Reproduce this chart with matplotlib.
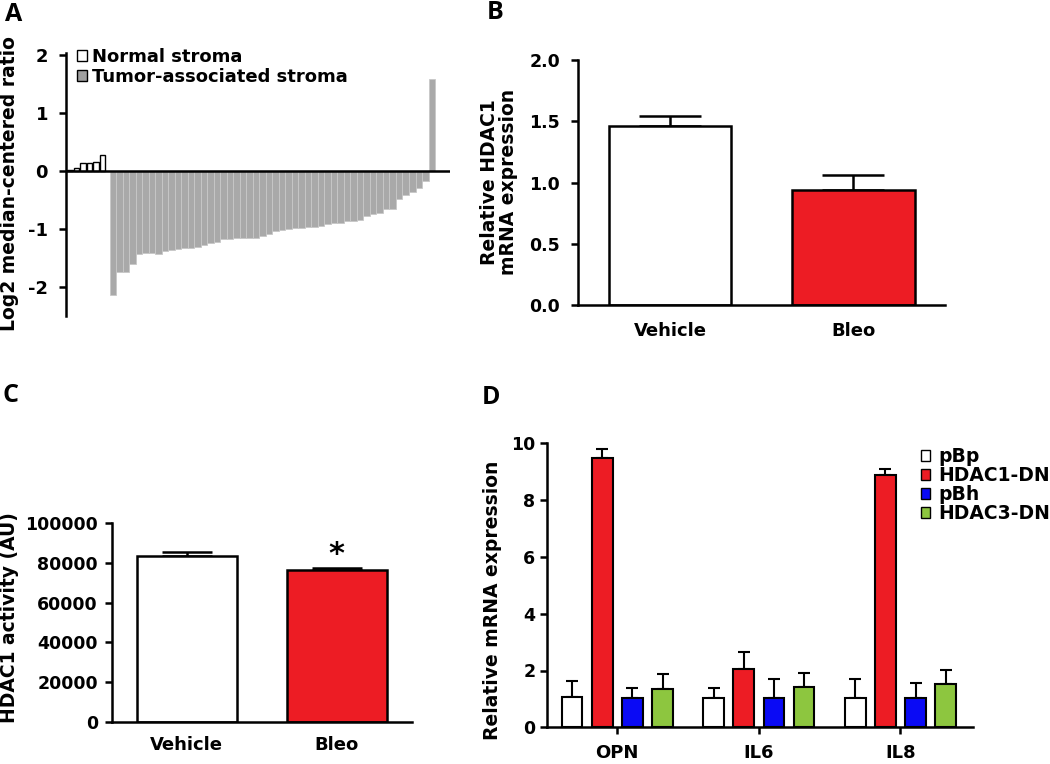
import matplotlib
matplotlib.use('Agg')
import matplotlib.pyplot as plt
from matplotlib.patches import Patch
import numpy as np

plt.rcParams['font.family'] = 'DejaVu Sans'
plt.rcParams['font.weight'] = 'bold'
plt.rcParams['axes.unicode_minus'] = False

# Panel A: log2 median-centered ratio
normal_stroma = [0.02, 0.05, 0.14, 0.14, 0.15, 0.28]
tumor_stroma = [-2.13, -1.74, -1.74, -1.61, -1.43, -1.42, -1.41, -1.43, -1.38, -1.37,
                -1.34, -1.33, -1.33, -1.32, -1.27, -1.25, -1.22, -1.18, -1.17, -1.16,
                -1.16, -1.15, -1.15, -1.12, -1.09, -1.04, -1.02, -1.00, -0.99, -0.98,
                -0.97, -0.96, -0.95, -0.92, -0.90, -0.89, -0.87, -0.86, -0.84, -0.77,
                -0.74, -0.72, -0.66, -0.65, -0.49, -0.42, -0.36, -0.30, -0.18, 1.59]

# Panel B: relative HDAC1 mRNA expression
groups_bc = ['Vehicle', 'Bleo']
hdac1_mrna = [1.46, 0.935]
hdac1_mrna_err = [0.08, 0.13]

# Panel C: HDAC1 activity
hdac1_activity = [83300, 76500]
hdac1_activity_err = [2000, 800]

# Panel D: relative mRNA expression
genes = ['OPN', 'IL6', 'IL8']
constructs = ['pBp', 'HDAC1-DN', 'pBh', 'HDAC3-DN']
expr = {
    'pBp': [1.08, 1.02, 1.04],
    'HDAC1-DN': [9.47, 2.06, 8.88],
    'pBh': [1.02, 1.02, 1.02],
    'HDAC3-DN': [1.34, 1.43, 1.52],
}
expr_err = {
    'pBp': [0.56, 0.35, 0.66],
    'HDAC1-DN': [0.33, 0.58, 0.20],
    'pBh': [0.35, 0.68, 0.55],
    'HDAC3-DN': [0.53, 0.49, 0.50],
}

RED = '#ED1C24'
colors_d = {'pBp': 'white', 'HDAC1-DN': RED, 'pBh': '#0A0AF5', 'HDAC3-DN': '#8DC63F'}

W, H = 1050, 764


def box(l, t, r, b):
    return [l / W, 1 - b / H, (r - l) / W, (b - t) / H]


def style_axes(ax):
    for s in ['top', 'right']:
        ax.spines[s].set_visible(False)
    for s in ['left', 'bottom']:
        ax.spines[s].set_linewidth(1.8)
    ax.tick_params(axis='both', direction='out', width=1.8, length=5, labelsize=12.5)


fig = plt.figure(figsize=(10.5, 7.64), dpi=100)

# ---------------- A ----------------
axA = fig.add_axes(box(66, 53, 450, 316))
style_axes(axA)
axA.spines['bottom'].set_visible(False)
xn = np.arange(len(normal_stroma))
xt = 6.6 + np.arange(len(tumor_stroma))
axA.bar(xt, tumor_stroma, width=1.0, align='edge', color='#a9a9a9',
        edgecolor='#c8c8c8', linewidth=0.6, zorder=2)
axA.bar(xn + 0.1, normal_stroma, width=0.8, align='edge', color='white',
        edgecolor='black', linewidth=1.0, zorder=2)
axA.axhline(0, color='black', linewidth=1.8, zorder=3)
axA.set_xlim(-0.1, 58.9)
axA.set_ylim(-2.5, 2.03)
axA.set_yticks([-2, -1, 0, 1, 2])
axA.set_xticks([])
axA.tick_params(axis='y', labelsize=13, pad=8)
fig.text(10 / W, 1 - 184 / H, 'Log2 median-centered ratio', rotation=90,
         ha='center', va='center', fontsize=13.5)
fig.legend(handles=[Patch(facecolor='white', edgecolor='black', linewidth=1.0, label='Normal stroma'),
                    Patch(facecolor='#a0a0a0', edgecolor='black', linewidth=1.0, label='Tumor-associated stroma')],
           loc='upper left', bbox_to_anchor=(77 / W, 1 - 48 / H), frameon=False,
           fontsize=13, handlelength=0.55, handleheight=0.55, handletextpad=0.3,
           labelspacing=0.1, borderpad=0, borderaxespad=0)

# ---------------- B ----------------
axB = fig.add_axes(box(578, 60, 945, 305))
style_axes(axB)
xb = np.arange(len(groups_bc))
axB.bar(xb, hdac1_mrna, width=0.667, color=['white', RED], edgecolor='black', linewidth=1.8, zorder=2)
axB.errorbar(xb, hdac1_mrna, yerr=[np.zeros(2), hdac1_mrna_err], fmt='none', ecolor='black',
             elinewidth=1.8, capsize=22, capthick=1.8, zorder=1)
axB.set_xlim(-0.505, 1.5)
axB.set_ylim(0, 2.0)
axB.set_yticks([0, 0.5, 1.0, 1.5, 2.0])
axB.set_yticklabels(['0.0', '0.5', '1.0', '1.5', '2.0'])
axB.tick_params(axis='y', pad=8)
axB.set_xticks(xb)
axB.set_xticklabels(groups_bc, fontsize=13)
axB.tick_params(axis='x', length=0, pad=12)
fig.text(499 / W, 1 - 182 / H, 'Relative HDAC1\nmRNA expression', rotation=90,
         ha='center', va='center', fontsize=13.5, linespacing=1.0)

# ---------------- C ----------------
axC = fig.add_axes(box(111.7, 522.7, 411.7, 722.3))
style_axes(axC)
axC.bar(xb, hdac1_activity, width=0.667, color=['white', RED], edgecolor='black', linewidth=1.8, zorder=2)
axC.errorbar(xb, hdac1_activity, yerr=[np.zeros(2), hdac1_activity_err], fmt='none', ecolor='black',
             elinewidth=1.8, capsize=18, capthick=1.8, zorder=1)
axC.set_xlim(-0.5, 1.5)
axC.set_ylim(0, 100000)
axC.set_yticks(np.arange(0, 100001, 20000))
axC.tick_params(axis='y', pad=5)
axC.set_xticks(xb)
axC.set_xticklabels(groups_bc, fontsize=13)
axC.tick_params(axis='x', length=0, pad=10)
axC.text(xb[1], hdac1_activity[1] + hdac1_activity_err[1] - 500, '*', ha='center', va='bottom',
         fontsize=22)
fig.text(10 / W, 1 - 618 / H, 'HDAC1 activity (AU)', rotation=90,
         ha='center', va='center', fontsize=13.5)

# ---------------- D ----------------
axD = fig.add_axes(box(546.5, 443.3, 972.7, 727.3))
style_axes(axD)
xg = np.arange(len(genes))
step = 0.213
for i, c in enumerate(constructs):
    xs = xg + (i - 1.5) * step
    axD.bar(xs, expr[c], width=0.146, color=colors_d[c], edgecolor='black', linewidth=1.5, zorder=2)
    axD.errorbar(xs, expr[c], yerr=[np.zeros(len(genes)), expr_err[c]], fmt='none', ecolor='black',
                 elinewidth=1.5, capsize=4.5, capthick=1.5, zorder=1)
axD.set_xlim(-0.5, 2.51)
axD.set_ylim(0, 10)
axD.set_yticks(np.arange(0, 11, 2))
axD.tick_params(axis='y', pad=3)
axD.set_xticks(xg)
axD.set_xticklabels(genes, fontsize=13)
axD.tick_params(axis='x', pad=7)
fig.text(492 / W, 1 - 600 / H, 'Relative mRNA expression', rotation=90,
         ha='center', va='center', fontsize=13.5)
fig.legend(handles=[Patch(facecolor=colors_d[c], edgecolor='black', linewidth=1.0, label=c)
                    for c in constructs],
           loc='upper left', bbox_to_anchor=(921 / W, 1 - 447 / H), frameon=False,
           fontsize=13.5, handlelength=0.5, handleheight=0.5, handletextpad=0.4,
           labelspacing=0.0, borderpad=0, borderaxespad=0)

# panel letters
for letter, (px, py) in zip('ABCD', [(5, 2), (487, 0), (3, 383), (482, 385)]):
    fig.text(px / W, 1 - py / H, letter, ha='left', va='top', fontsize=18,
             fontweight='bold', family='Open Sans')

fig.savefig('out.png', dpi=100, facecolor='white')
